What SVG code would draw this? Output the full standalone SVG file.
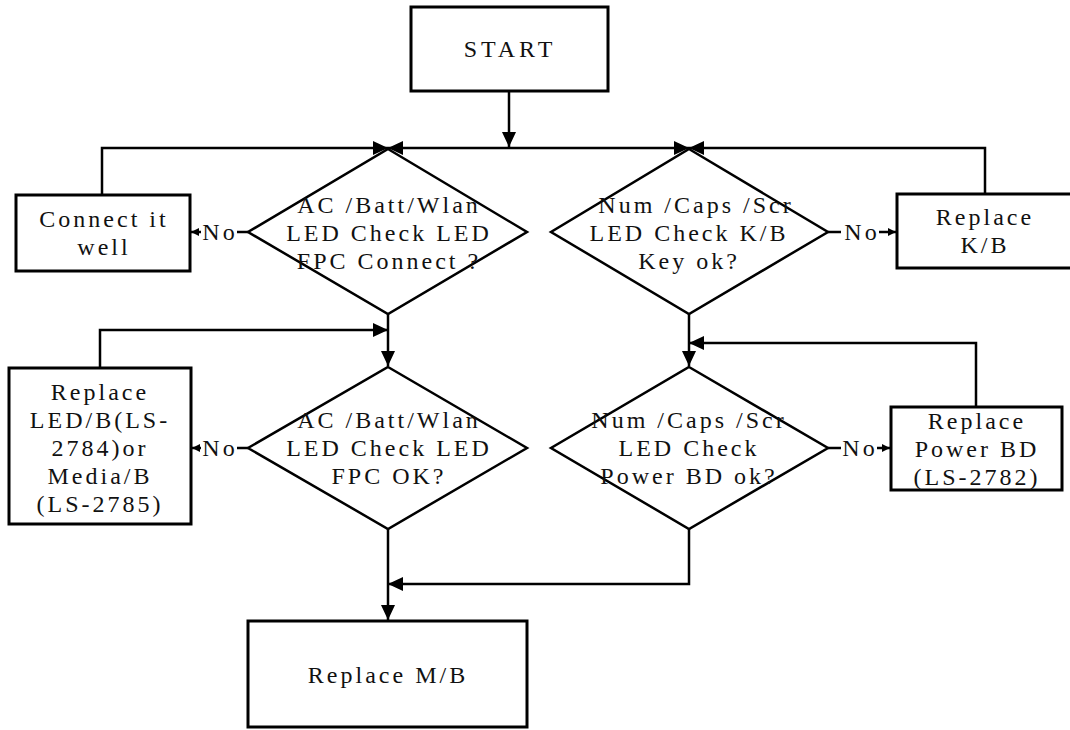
<svg xmlns="http://www.w3.org/2000/svg" width="1070" height="730" viewBox="0 0 1070 730">
<style>
.box{fill:#fff;stroke:#000;stroke-width:3}
.dia{fill:#fff;stroke:#000;stroke-width:2.5}
.t{font-family:"Liberation Serif","Times New Roman",serif;font-size:24px;letter-spacing:3px;fill:#111;text-anchor:middle}
.c{fill:none;stroke:#000;stroke-width:2.5}
.lbl{fill:#fff}
</style>
<defs>
<marker id="big" markerUnits="userSpaceOnUse" markerWidth="16" markerHeight="16" refX="15" refY="7" orient="auto">
<path d="M0,0 L15,7 L0,14 Z" fill="#000"/>
</marker>
<marker id="small" markerUnits="userSpaceOnUse" markerWidth="9" markerHeight="9" refX="8" refY="4" orient="auto">
<path d="M0,0 L8,4 L0,8 Z" fill="#000"/>
</marker>
</defs>
<rect width="1070" height="730" fill="#fff"/>

<g id="connectors">
<path class="c" d="M509,92 L509,147" marker-end="url(#big)"/>
<path class="c" d="M509,148 L388,148" marker-end="url(#big)"/>
<path class="c" d="M509,148 L689,148" marker-end="url(#big)"/>
<path class="c" d="M102,194 L102,148 L388,148" marker-end="url(#big)"/>
<path class="c" d="M985,194 L985,148 L689,148" marker-end="url(#big)"/>
<path class="c" d="M248,232 L191,232" marker-end="url(#small)"/>
<path class="c" d="M828,232 L896,232" marker-end="url(#small)"/>
<path class="c" d="M388,314 L388,366" marker-end="url(#big)"/>
<path class="c" d="M100,367 L100,330 L388,330" marker-end="url(#big)"/>
<path class="c" d="M689,314 L689,366" marker-end="url(#big)"/>
<path class="c" d="M976,406 L976,343 L689,343" marker-end="url(#big)"/>
<path class="c" d="M248,448 L192,448" marker-end="url(#small)"/>
<path class="c" d="M828,448 L890,448" marker-end="url(#small)"/>
<path class="c" d="M388,529 L388,620" marker-end="url(#big)"/>
<path class="c" d="M689,529 L689,584 L388,584" marker-end="url(#big)"/>
<rect class="lbl" x="201" y="220" width="36" height="24"/>
<text class="t" x="220" y="240">No</text>
<rect class="lbl" x="841" y="220" width="38" height="24"/>
<text class="t" x="862" y="240">No</text>
<rect class="lbl" x="201" y="436" width="36" height="24"/>
<text class="t" x="220" y="456">No</text>
<rect class="lbl" x="841" y="436" width="36" height="24"/>
<text class="t" x="860" y="456">No</text>
</g>

<g id="start">
<rect class="box" x="411" y="7" width="197" height="84"/>
<text class="t" x="510" y="57" style="letter-spacing:4px">START</text>
</g>

<g id="d1">
<polygon class="dia" points="388,149 527,232 388,314 248,232"/>
<text class="t" x="389" y="213">AC /Batt/Wlan</text>
<text class="t" x="389" y="241">LED Check LED</text>
<text class="t" x="389" y="269">FPC Connect ?</text>
</g>

<g id="d2">
<polygon class="dia" points="689,149 828,232 689,314 551,232"/>
<text class="t" x="696" y="213">Num /Caps /Scr</text>
<text class="t" x="689" y="241">LED Check K/B</text>
<text class="t" x="689" y="269">Key ok?</text>
</g>

<g id="connect">
<rect class="box" x="16" y="195" width="174" height="76"/>
<text class="t" x="104" y="227">Connect it</text>
<text class="t" x="104" y="255">well</text>
</g>

<g id="replace-kb">
<rect class="box" x="897" y="194" width="180" height="74"/>
<text class="t" x="985" y="225">Replace</text>
<text class="t" x="985" y="253">K/B</text>
</g>

<g id="d3">
<polygon class="dia" points="388,367 527,448 388,529 248,448"/>
<text class="t" x="389" y="428">AC /Batt/Wlan</text>
<text class="t" x="389" y="456">LED Check LED</text>
<text class="t" x="389" y="484">FPC OK?</text>
</g>

<g id="d4">
<polygon class="dia" points="689,367 828,448 689,529 551,448"/>
<text class="t" x="689" y="428">Num /Caps /Scr</text>
<text class="t" x="689" y="456">LED Check</text>
<text class="t" x="689" y="484">Power BD ok?</text>
</g>

<g id="replace-led">
<rect class="box" x="9" y="368" width="182" height="156"/>
<text class="t" x="100" y="400">Replace</text>
<text class="t" x="100" y="428">LED/B(LS-</text>
<text class="t" x="100" y="456">2784)or</text>
<text class="t" x="100" y="484">Media/B</text>
<text class="t" x="100" y="512">(LS-2785)</text>
</g>

<g id="replace-power">
<rect class="box" x="891" y="407" width="171" height="83"/>
<text class="t" x="977" y="429">Replace</text>
<text class="t" x="977" y="457">Power BD</text>
<text class="t" x="977" y="485">(LS-2782)</text>
</g>

<g id="replace-mb">
<rect class="box" x="248" y="621" width="279" height="106"/>
<text class="t" x="388" y="683">Replace M/B</text>
</g>
</svg>
